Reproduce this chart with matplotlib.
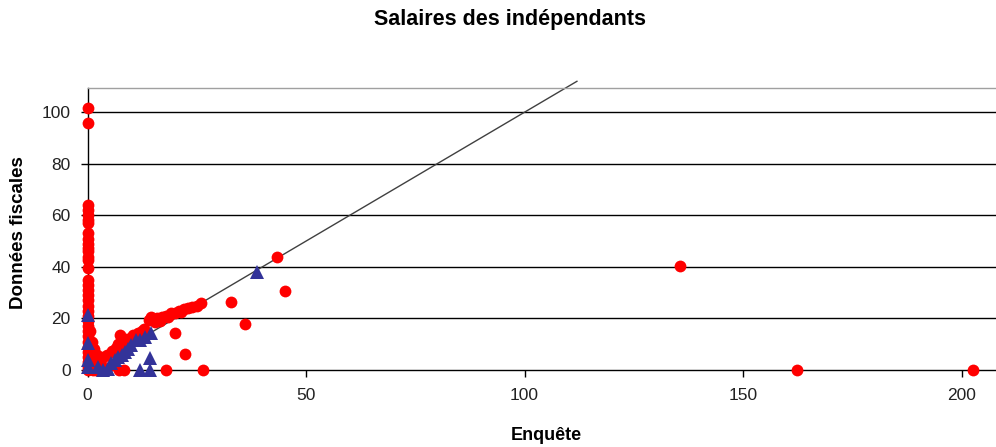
import matplotlib
matplotlib.use("Agg")
import matplotlib.pyplot as plt

plt.rcParams['font.family'] = ['Liberation Sans', 'DejaVu Sans']

# Red series (circles)
red_x = [0, 0, 0, 0, 0, 0, 0, 0, 0, 0, 0, 0, 0, 0, 0, 0, 0, 0, 0, 0, 0, 0, 0, 0, 0, 0, 0, 0, 0, 0, 0, 0, 0, 0,
         0.5, 1.0, 1.2, 1.6, 2.0, 2.5, 3.0, 1.0, 0.7, 2.0, 4.0, 5.5, 1.5, 0.8, 2.2, 3.2, 1.0, 0.5,
         2.8, 3.5, 4.5, 5.5, 6.5, 7.0, 8.0, 9.0, 10.0, 10.5, 11.5, 12.5, 13.0, 13.5, 14.0, 14.5, 15.5, 16.0,
         16.5, 17.0, 18.0, 18.5, 19.0, 20.0, 21.0, 21.5, 22.0, 23.0, 24.0, 25.0, 26.0,
         6.0, 8.5, 11.0, 12.0,
         7.4, 20.0, 22.3, 18.0, 26.4, 7.2, 8.3, 32.8, 36.0, 43.3, 45.2, 135.6, 162.3, 202.7]
red_y = [101.5, 96, 64, 62, 60, 58, 57, 53, 51, 49, 47.5, 46, 44, 42.5, 39.5, 35, 33, 31, 29, 27, 25, 23, 21,
         19, 17, 15, 13, 11, 9, 7, 5, 3, 1, 0,
         2.0, 4.0, 0.0, 7.0, 1.0, 3.5, 0.5, 1.5, 5.5, 0.0, 0.0, 2.0, 8.0, 9.5, 6.0, 2.0, 11.0, 15.0,
         3.5, 5.0, 6.0, 7.5, 8.5, 10.0, 11.0, 12.0, 12.5, 13.5, 14.5, 15.0, 16.0, 14.0, 19.5, 20.5, 18.5, 20.0,
         19.0, 20.5, 21.0, 20.5, 22.0, 22.0, 23.0, 22.5, 23.5, 24.0, 24.5, 25.0, 26.0,
         7.0, 9.5, 13.0, 14.0,
         13.6, 14.3, 6.1, 0.0, 0.0, 0.0, 0.0, 26.5, 17.9, 43.7, 30.6, 40.4, 0.0, 0.0]

# Blue series (triangles)
blue_x = [0, 0, 0, 0, 2.4, 4.7, 3.5, 5.4, 6.2, 7.0, 7.8, 8.5, 9.2, 10.0, 11.2, 12.0, 13.1, 14.6,
          11.9, 14.2, 14.2, 38.7]
blue_y = [21.3, 10.5, 1.0, 4.0, 1.0, 0.5, 0.0, 2.6, 4.0, 5.2, 6.0, 7.1, 8.2, 9.7, 11.6, 11.8, 12.9, 14.2,
          0.0, 0.0, 4.6, 38.1]

# Reference line y = x
diag_x = [0, 112]
diag_y = [0, 112]

y_ticks = [0, 20, 40, 60, 80, 100]
x_ticks = [0, 50, 100, 150, 200]

W, H = 996, 447
fig = plt.figure(figsize=(W / 100, H / 100), dpi=100)
ax = fig.add_axes([87.5 / W, 77 / H, 1 - 87.5 / W, 282 / H])

ax.plot(diag_x, diag_y, color='#404040', lw=1.0, zorder=2, clip_on=False)
ax.plot(red_x, red_y, linestyle='none', marker='o', ms=8.5, color='#FF0000', mec='#FF0000',
        mew=0, zorder=3, clip_on=False)
ax.plot(blue_x, blue_y, linestyle='none', marker='^', ms=10, color='#333399', mec='#333399',
        mew=0, zorder=4, clip_on=False)

ax.set_xlim(0, (W - 87.5) / 4.37)
ax.set_ylim(0, 109.4)

ax.set_yticks(y_ticks)
ax.set_xticks(x_ticks)
for yv in y_ticks[1:]:
    ax.axhline(yv, color='black', lw=1.0, zorder=1)

ax.spines['left'].set_color('black')
ax.spines['bottom'].set_color('black')
ax.spines['top'].set_color('#A0A0A0')
ax.spines['right'].set_visible(False)
for s in ax.spines.values():
    s.set_linewidth(1.0)

ax.tick_params(axis='y', direction='out', length=5, width=1, pad=7, labelsize=12.5, colors='black',
               labelcolor='#222222')
ax.tick_params(axis='x', direction='out', length=5, width=1, pad=8, labelsize=12.5, colors='black',
               labelcolor='#222222')

fig.text(510 / W, 1 - 25 / H, 'Salaires des indépendants', ha='center', va='baseline',
         fontsize=15.5, fontweight='bold')
fig.text(18.5 / W, 1 - 233 / H, 'Données fiscales', ha='center', va='center', rotation=90,
         fontsize=13.5, fontweight='bold')
fig.text(546.7 / W, 1 - 436 / H, 'Enquête', ha='center', va='center',
         fontsize=13, fontweight='bold')

fig.savefig('out.png', dpi=100)
